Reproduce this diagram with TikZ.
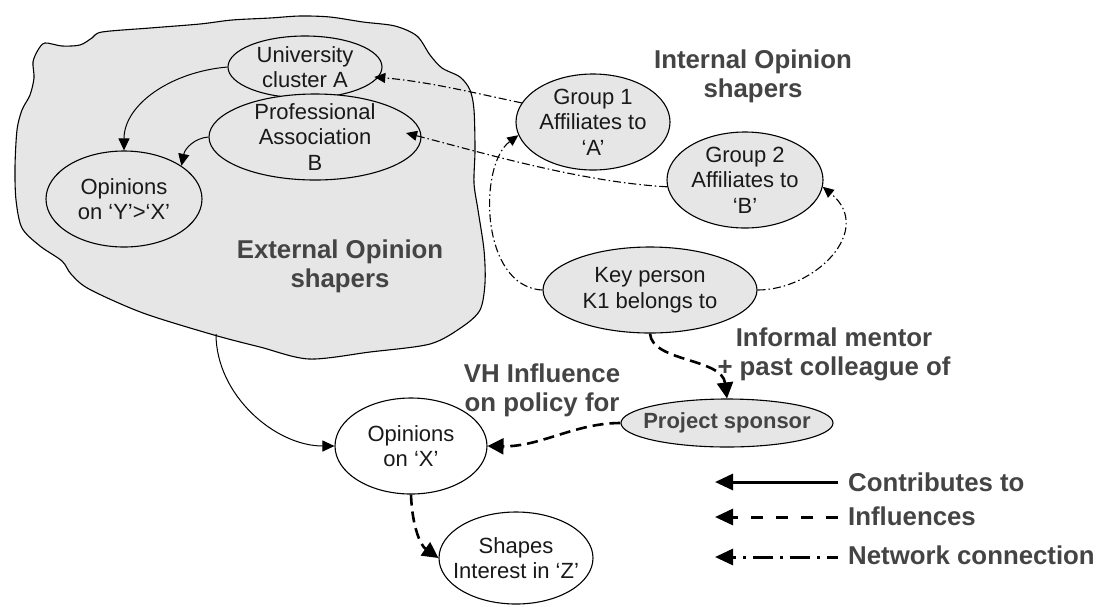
\documentclass[tikz,border=0pt]{standalone}
\usepackage{fontspec}
\setmainfont{Liberation Sans}
\usetikzlibrary{arrows.meta,shapes.geometric}
\definecolor{fillgray}{RGB}{230,230,230}
\definecolor{labelgray}{RGB}{68,68,68}
\definecolor{inkblack}{RGB}{25,25,25}
\begin{document}
\begin{tikzpicture}[x=1pt,y=-1pt,
  ell/.style={ellipse,draw=black,line width=1.1pt,inner sep=0pt,align=center,text=inkblack,font=\fontsize{22}{25.5}\selectfont},
  grayell/.style={ell,fill=fillgray},
  whiteell/.style={ell,fill=white},
  lbl/.style={align=center,text=labelgray,inner sep=0pt,font=\fontsize{25.8}{29}\selectfont\bfseries},
  contrib/.style={line width=1pt,-{Triangle[length=12pt,width=11pt]}},
  infl/.style={line width=2.6pt,dash pattern=on 11pt off 6pt,-{Triangle[length=16pt,width=16pt]}},
  net/.style={line width=1.1pt,dash pattern=on 8pt off 3pt on 1.5pt off 3pt,-{Triangle[length=11pt,width=10pt]}},
  legsolid/.style={line width=3pt,-{Triangle[length=18pt,width=16pt]}},
  legdash/.style={line width=3pt,dash pattern=on 12pt off 13pt,-{Triangle[length=18pt,width=16pt]}},
  legnet/.style={line width=3pt,dash pattern=on 20pt off 7pt on 3pt off 7pt,dash phase=9pt,-{Triangle[length=18pt,width=16pt]}},
]
\fill[white] (0,0) rectangle (1099,606);
\useasboundingbox (0,0) rectangle (1099,606);

% External blob
\filldraw[fill=fillgray,draw=black,line width=1.1pt] plot[smooth cycle,tension=0.5] coordinates {
 (45,43) (62,46) (80,45) (92,38) (102,32) (150,28) (200,24) (232,20) (270,18) (300,16) (330,17)
 (363,22) (395,26) (417,36) (430,55) (442,68) (460,77) (470,90) (474,110) (475,150) (474,183)
 (478,210) (484,250) (485,283) (480,310) (462,327) (430,344) (370,352) (309,359) (260,347)
 (214,335) (143,313) (89,289) (71,274) (62,261) (40,246) (22,228) (16,200) (15,167) (17,130)
 (22,110) (30,95) (34,78) (33,62) (38,50)};
\coordinate (blobbot) at (216,334);

% labels
\node[lbl] (intlbl) at (753,76) {Internal Opinion\\shapers};
\node[lbl] (extlbl) at (340,266) {External Opinion\\shapers};
\node[lbl] (vhlbl) at (542,390) {VH Influence\\on policy for};
\node[lbl] (mentlbl) at (834,354) {Informal mentor\\+ past colleague of};

% ellipses
\node[grayell,minimum width=154pt,minimum height=62pt,inner ysep=-2pt] (univ) at (305,67) {University\\cluster A};
\node[grayell,minimum width=212pt,minimum height=86pt,inner ysep=-4pt] (prof) at (315,137) {Professional\\Association\\B};
\node[grayell,minimum width=156pt,minimum height=96pt] (oyx) at (124,199) {Opinions\\on ‘Y’>‘X’};
\node[grayell,minimum width=154pt,minimum height=96pt] (g1) at (593,122) {Group 1\\Affiliates to\\‘A’};
\node[grayell,minimum width=156pt,minimum height=96pt] (g2) at (745,180) {Group 2\\Affiliates to\\‘B’};
\node[grayell,minimum width=214pt,minimum height=86pt] (kp) at (650,290) {Key person\\K1 belongs to};
\node[grayell,minimum width=212pt,minimum height=48pt,inner xsep=-9pt,font=\fontsize{22}{25.5}\selectfont\bfseries,text=labelgray] (ps) at (727,423) {Project sponsor};
\node[whiteell,minimum width=152pt,minimum height=96pt] (ox) at (411,446) {Opinions\\on ‘X’};
\node[whiteell,minimum width=154pt,minimum height=92pt,inner xsep=-9pt] (sh) at (516,558) {Shapes\\Interest in ‘Z’};

% connectors
\draw[contrib] (univ.west) .. controls (170,72) and (124,105) .. (oyx.north);
\draw[contrib] (prof.west) .. controls (195,138) and (185,148) .. (oyx.30);
\draw[net,shorten >=-4pt] (g1.165) .. controls (470,92) and (430,82) .. (univ.-8);
\draw[net,shorten >=-16pt] (g2.185) .. controls (580,182) and (480,152) .. (prof.east);
\draw[net] (kp.west) .. controls (480,287) and (478,165) .. (g1.190);
\draw[net] (kp.east) .. controls (815,290) and (875,230) .. (g2.-5);
\draw[infl] (kp.south) .. controls (652,362) and (722,358) .. (ps.north);
\draw[infl] (ps.west) .. controls (575,423) and (540,447) .. (ox.east);
\draw[contrib] (blobbot) .. controls (216,395) and (275,446) .. (ox.west);
\draw[infl] (ox.south) .. controls (412,525) and (420,545) .. (sh.west);

% legend
\node[lbl,anchor=base west] (lc) at (848,491) {Contributes to};
\node[lbl,anchor=base west] (li) at (848,525) {Influences};
\node[lbl,anchor=base west] (ln) at (848,564) {Network connection};
\coordinate (lc1) at (838,482); \coordinate (lc0) at (715,482);
\coordinate (li1) at (838,517); \coordinate (li0) at (715,517);
\coordinate (ln1) at (838,557); \coordinate (ln0) at (715,557);
\draw[legsolid] (lc1) -- (lc0);
\draw[legdash] (li1) -- (li0);
\draw[legnet] (ln1) -- (ln0);
\end{tikzpicture}
\end{document}
